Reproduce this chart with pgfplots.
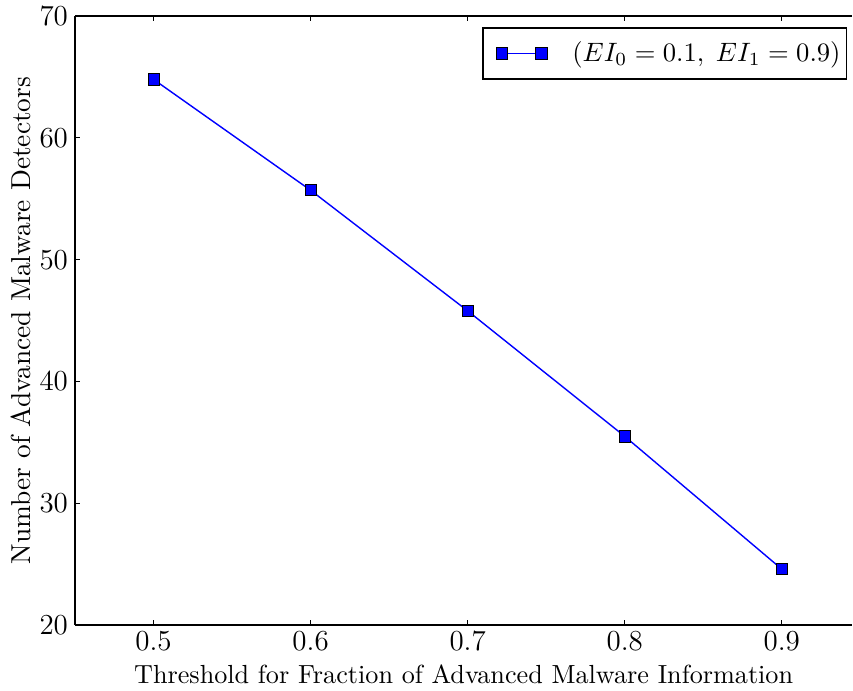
\documentclass[border=0pt]{standalone}
\usepackage{pgfplots}
\pgfplotsset{compat=1.18}
\begin{document}
\begin{tikzpicture}
  \begin{axis}[
    scale only axis,
    width=386pt,
    height=302.5pt,
    xmin=0.45, xmax=0.9449,
    ymin=20, ymax=70,
    xtick={0.5,0.6,0.7,0.8,0.9},
    ytick={20,30,40,50,60,70},
    axis x line=box,
    axis y line*=left,
    axis line style={line width=0.7pt},
    major tick length=2.5pt,
    tick style={black, line width=0.6pt},
    tick label style={font=\fontsize{14}{16}\selectfont},
    label style={font=\fontsize{10}{12}\selectfont},
    xlabel={\scalebox{1.3}{Threshold for Fraction of Advanced Malware Information}},
    ylabel={\scalebox{1.36}{Number of Advanced Malware Detectors}},
    ylabel style={inner ysep=5.6pt, yshift=-5pt},
    xticklabel style={/pgf/number format/fixed, /pgf/number format/precision=1},
    legend style={
      at={(1,1)}, anchor=north east, xshift=-2.5pt, yshift=-5.5pt,
      draw=black, line width=0.7pt,
      inner xsep=1pt, inner ysep=5pt,
      font=\fontsize{10}{12}\selectfont,
      /tikz/every odd column/.append style={column sep=10.5pt}
    },
    legend cell align=left,
    legend image code/.code={
      \path (-8.3pt,0pt);
      \draw[#1, mark repeat=2, mark phase=1]
        plot coordinates {(0pt,0pt) (9.75pt,0pt) (19.5pt,0pt)};
    },
  ]
    \addplot+[blue, line width=0.7pt, mark=square*,
      mark size=2.8pt,
      mark options={fill=blue, draw=black, line width=0.4pt}]
      coordinates {
        (0.5,64.8)
        (0.6,55.7)
        (0.7,45.8)
        (0.8,35.5)
        (0.9,24.6)
      };
    \addlegendentry{\scalebox{1.32}{$(EI_0 = 0.1,\;EI_1 = 0.9)$}}
  \end{axis}
\end{tikzpicture}
\end{document}
